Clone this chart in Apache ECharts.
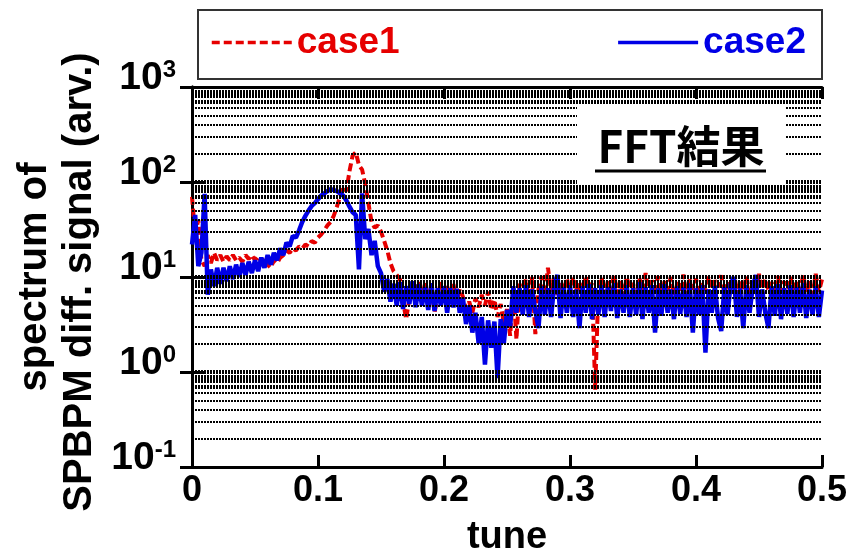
<!DOCTYPE html>
<html>
<head>
<meta charset="utf-8">
<script src="https://cdn.jsdelivr.net/npm/echarts@6/dist/echarts.min.js"></script>
<style>
html,body{margin:0;padding:0;background:#fff;}
#chart{width:855px;height:557px;}
</style>
</head>
<body>
<div id="chart"></div>
<script>
// x sampling grid (tune), step 0.0025 from 0 to 0.5
var tune = [];
for (var i = 0; i <= 200; i++) { tune.push(i / 400); }

// case1 (red dashed) spectrum values
var case1 = [
70,28,40,15,13,17,14,18,15,17,
14.5,16.5,15,17,15,16,14.5,17,15.5,17,
15,16.5,14.5,16,13.5,12.5,15,14,16,17,
19,18,20,19,21,20,22,21,24,23,
26,28,31,35,38,44,55,70,90,80,
130,190,205,150,135,95,60,38,33,35,
30,24,19,14,11.5,10.5,9.5,5.5,3.6,6,
8.5,6.5,9,6,8.6,5.5,8.2,4.2,6.5,8.8,
5.8,8,6.2,8.4,5.5,7.5,6.2,4.6,5.5,4.2,
6,4.8,6.5,5,7,4.5,5.8,3.8,5.2,3.2,
4.6,2.4,7.5,2.2,8.5,6.5,9.5,5.5,10,2.5,
7.5,10.2,6.5,12.5,7,9.6,6.5,9,7,9.8,
6.6,10,7,9,6.2,10.2,7.4,8.6,0.65,7.2,
10,6.5,9,7.2,10.6,6.5,9.4,6.2,10,7.5,
8.6,6.4,9.8,7.2,11,6.6,9.2,7.4,10.2,6.2,
9,7.2,10,6.4,8.8,7,10.6,6.3,9.4,7.4,
9.6,6.6,8.8,7.2,10.2,6.4,9.2,7.8,10.4,6.6,
9,7.2,10,6.4,9.4,7.2,10.2,6.6,8.8,7.4,
10.8,6.4,9.6,7.2,8.8,6.6,10.2,7,9,6.4,
10,7.4,9.2,6.6,10.6,7,9,6.4,10.8,7,
9.4
];

// case2 (blue solid) spectrum values
var case2 = [
22,45,13,18,75,6.5,12,8,12.5,8.5,
12.5,9,13,9.5,13.5,10,14,10.5,14.5,11,
15,11.5,16,12.5,17,13.5,18,15,20,17,
23,21,27,26,31,38,44,50,56,60,
66,72,76,80,84,82,80,76,72,64,
55,48,45,12,76,25,32,17,24,13,
11,7,9.5,5.5,8.5,5,8.8,4.6,8,5.2,
9,4.8,8.4,5,7.8,4.5,8.6,4.4,7.6,5,
8,4.2,7.6,4.8,7.5,4.2,6,3.2,5,2.6,
4.2,2,3.8,1.2,3.5,1.8,3.4,0.86,3.6,2,
4.5,3,8,4.2,7.6,4,8.2,3.8,7.4,4.4,
2.9,8,4,7.6,3.8,8.4,10.5,3.7,7.8,4.2,
8.2,3.8,7.4,2.9,8,4.2,8.4,3.6,7.6,4,
8.2,3.8,7.8,4.4,8.6,3.7,7.4,4.2,8.2,3.8,
7.6,4,8.8,3.6,7.8,4.2,8.2,2.6,7.6,3.9,
8.4,4.2,7.4,3.6,8,4.1,7.8,3.8,8.6,2.6,
7.6,4,8.2,1.6,7.4,4.2,8,3.7,2.7,7.8,
4,8.4,10,3.8,7.6,2.9,8.2,4.2,7.8,10.5,
3.8,7.4,4.2,2.9,8,3.9,8.4,3.6,7.6,4.1,
8.2,3.8,7.8,4.2,8.6,3.7,7.4,4,8,3.8,
7.2
];

var xTicks = [0, 0.1, 0.2, 0.3, 0.4, 0.5];
var yDecades = [0.1, 1, 10, 100, 1000];
// gridline values (dotted lines at every minor log step)
var gridMinor = [0.2,0.3,0.4,0.5,0.6, 2,3,4,5,6, 20,30,40,50,60, 200,300,400,500,600];
var gridDense = [0.7,0.8,0.9, 1,7,8,9, 10,70,80,90, 100,700,800,900];

var seriesNames = ['case1', 'case2'];

var chart = echarts.init(document.getElementById('chart'), null, {renderer: 'canvas'});

function pairs(vals) { return tune.map(function (t, i) { return [t, vals[i]]; }); }

var gridLines = [];
gridMinor.forEach(function (v) {
  gridLines.push({yAxis: v, lineStyle: {width: 2, type: [2, 1], color: '#000'}});
});
gridDense.forEach(function (v) {
  gridLines.push({yAxis: v, lineStyle: {width: 4, type: [2, 1], color: '#000'}});
});

var legendCommon = {
  top: 24, padding: 0, itemWidth: 80, itemHeight: 16, itemGap: 0,
  itemStyle: {opacity: 0, borderWidth: 0},
  lineStyle: {width: 3.5}
};

var option = {
  animation: false,
  backgroundColor: '#fff',
  grid: {left: 192, right: 33, top: 87, bottom: 90, containLabel: false, outerBoundsMode: 'none'},
  legend: [
    Object.assign({}, legendCommon, {
      data: [{name: seriesNames[0], itemStyle: {opacity: 0}}], left: 210,
      textStyle: {color: '#e60000', fontSize: 37, fontWeight: 'bold', fontFamily: 'Liberation Sans'}
    }),
    Object.assign({}, legendCommon, {
      data: [{name: seriesNames[1], itemStyle: {opacity: 0}}], right: 49,
      textStyle: {color: '#0000e6', fontSize: 37, fontWeight: 'bold', fontFamily: 'Liberation Sans'}
    })
  ],
  xAxis: [
    {
      type: 'value', position: 'bottom', min: 0, max: 0.5, interval: 0.1,
      name: 'tune', nameLocation: 'middle', nameGap: 52,
      nameTextStyle: {fontSize: 38, fontWeight: 'bold', color: '#000', fontFamily: 'Liberation Sans'},
      axisLine: {show: true, lineStyle: {color: '#000', width: 3}},
      axisTick: {show: true, inside: true, length: 12, lineStyle: {color: '#000', width: 3}},
      axisLabel: {show: true, margin: 6, fontSize: 36, fontWeight: 'bold', color: '#000', fontFamily: 'Liberation Sans',
        formatter: function (v) { return String(v); }},
      splitLine: {show: false}
    },
    {
      type: 'value', position: 'top', min: 0, max: 0.5, interval: 0.1,
      axisLine: {show: true, lineStyle: {color: '#000', width: 3}},
      axisTick: {show: true, inside: true, length: 12, lineStyle: {color: '#000', width: 3}},
      axisLabel: {show: false},
      splitLine: {show: false}
    }
  ],
  yAxis: [
    {
      type: 'log', logBase: 10, min: 0.1, max: 1000, position: 'left',
      axisLine: {show: true, lineStyle: {color: '#000', width: 3}},
      axisTick: {show: true, inside: true, length: 12, lineStyle: {color: '#000', width: 3}},
      axisLabel: {
        show: true, margin: 16, color: '#000', padding: [0, 0, 18, 0],
        formatter: function (v) {
          var e = Math.round(Math.log(v) / Math.LN10);
          return '{b|10}{s|' + e + '}';
        },
        rich: {
          b: {fontSize: 39, fontWeight: 'bold', fontFamily: "'Liberation Sans Narrow', 'Liberation Sans'", lineHeight: 40, verticalAlign: 'bottom', color: '#000'},
          s: {fontSize: 24, fontWeight: 'bold', fontFamily: "'Liberation Sans Narrow', 'Liberation Sans'", lineHeight: 8, verticalAlign: 'top', color: '#000'}
        }
      },
      splitLine: {show: false}
    },
    {
      type: 'log', logBase: 10, min: 0.1, max: 1000, position: 'right',
      axisLine: {show: true, lineStyle: {color: '#000', width: 3}},
      axisTick: {show: true, inside: true, length: 12, lineStyle: {color: '#000', width: 3}},
      axisLabel: {show: false},
      splitLine: {show: false}
    }
  ],
  graphic: [
    {type: 'rect', z: 100, shape: {x: 198, y: 10, width: 624, height: 69},
      style: {fill: 'rgba(255,255,255,0)', stroke: '#333', lineWidth: 2}},
    {type: 'rect', z: 100, shape: {x: 577, y: 107, width: 209, height: 77},
      style: {fill: '#fff', stroke: null}},
    {type: 'text', z: 101, x: 681, y: 146,
      style: {text: 'FFT結果', fontSize: 44, fontWeight: 'bold', fontFamily: "'Noto Sans CJK JP', 'Noto Sans'", fill: '#000', textAlign: 'center', textVerticalAlign: 'middle', align: 'center', verticalAlign: 'middle'}},
    {type: 'line', z: 101, shape: {x1: 595, y1: 171, x2: 766, y2: 171}, style: {stroke: '#000', lineWidth: 3}},
    {type: 'text', z: 101, x: 35, y: 277, rotation: Math.PI / 2,
      style: {text: 'spectrum of', fontSize: 40, fontWeight: 'bold', fontFamily: 'Liberation Sans', fill: '#000', textAlign: 'center', textVerticalAlign: 'middle', align: 'center', verticalAlign: 'middle'}},
    {type: 'text', z: 101, x: 80, y: 282, rotation: Math.PI / 2,
      style: {text: 'SPBPM diff. signal (arv.)', fontSize: 40, fontWeight: 'bold', fontFamily: 'Liberation Sans', fill: '#000', textAlign: 'center', textVerticalAlign: 'middle', align: 'center', verticalAlign: 'middle'}}
  ],
  series: [
    {
      name: 'grid', type: 'line', data: [], z: 1, silent: true,
      markLine: {silent: true, symbol: 'none', animation: false, label: {show: false}, data: gridLines}
    },
    {
      name: seriesNames[0], type: 'line', data: pairs(case1), z: 3,
      showSymbol: false, symbol: 'none', color: '#e60000',
      lineStyle: {color: '#e60000', width: 4, type: [8, 4]}
    },
    {
      name: seriesNames[1], type: 'line', data: pairs(case2), z: 4,
      showSymbol: false, symbol: 'none', color: '#0000e6',
      lineStyle: {color: '#0000e6', width: 4.5, type: 'solid'}
    }
  ]
};
chart.setOption(option);
</script>
</body>
</html>
